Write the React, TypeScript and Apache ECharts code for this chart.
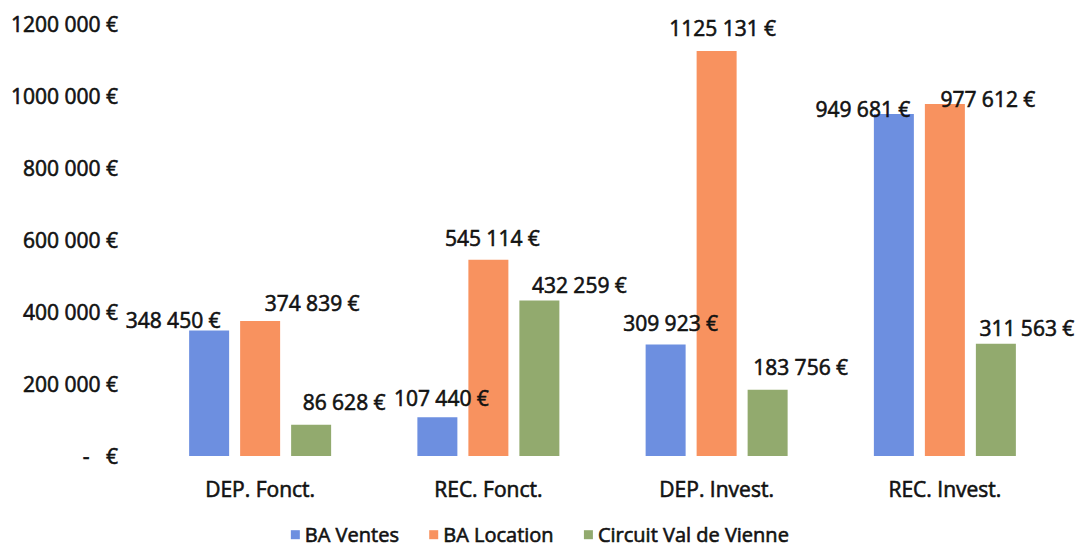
import React, { useEffect, useRef } from "react";
import * as echarts from "echarts";

const categories = ["DEP. Fonct.", "REC. Fonct.", "DEP. Invest.", "REC. Invest."];
const seriesNames = ["BA Ventes", "BA Location", "Circuit Val de Vienne"];
const baVentes = [348450, 107440, 309923, 949681];
const baLocation = [374839, 545114, 1125131, 977612];
const circuitValDeVienne = [86628, 432259, 183756, 311563];
const yTicks = [0, 200000, 400000, 600000, 800000, 1000000, 1200000];

// label layout tweaks (style only): [dx, dy] per series per category
const labelShift = [
  [[-36, 5], [4, -4], [5, -6], [-31, 10]],
  [[52, -3], [4, -6], [6, -7], [43, 10]],
  [[33, -7], [40, 0], [33, -7], [31, 0]],
];
const colors = ["#6D8FE0", "#F8925F", "#92AA6E"];
const FONT = "'Open Sans', sans-serif";
const TXT = "#121212";
const STROKE = { textBorderColor: TXT, textBorderWidth: 0.6 };

function fmt(v: number): string {
  if (v === 0) return "-   €";
  const th = Math.floor(v / 1000);
  const rest = String(Math.round(v % 1000)).padStart(3, "0");
  return th + " " + rest + " €";
}

export default function App() {
  const ref = useRef<HTMLDivElement>(null);
  useEffect(() => {
    if (!ref.current) return;
    const chart = echarts.init(ref.current, undefined, { renderer: "svg" });
    const allData = [baVentes, baLocation, circuitValDeVienne];
    chart.setOption({
      animation: false,
      textStyle: { fontFamily: FONT },
      grid: { left: 146, right: 21, top: 24, bottom: 92 },
      legend: {
        bottom: -2,
        left: "center",
        itemWidth: 9,
        itemHeight: 9,
        itemGap: 30,
        icon: "rect",
        textStyle: { fontFamily: FONT, fontSize: 20, color: TXT, ...STROKE },
        data: seriesNames,
      },
      xAxis: {
        type: "category",
        data: categories,
        axisLine: { show: false },
        axisTick: { show: false },
        axisLabel: { margin: 22, fontFamily: FONT, fontSize: 21, color: TXT, ...STROKE },
      },
      yAxis: {
        type: "value",
        min: yTicks[0],
        max: yTicks[yTicks.length - 1],
        interval: yTicks[1] - yTicks[0],
        splitLine: { show: false },
        axisLine: { show: false },
        axisTick: { show: false },
        axisLabel: {
          margin: 28,
          fontFamily: FONT,
          fontSize: 21,
          color: TXT,
          ...STROKE,
          formatter: (v: number) => fmt(v),
        },
      },
      series: allData.map((arr, si) => ({
        name: seriesNames[si],
        type: "bar",
        barWidth: 40,
        barGap: "27.5%",
        itemStyle: { color: colors[si] },
        data: arr.map((v, ci) => ({
          value: v,
          label: {
            show: true,
            position: "top",
            distance: 5,
            offset: labelShift[si][ci],
            formatter: (p: any) => fmt(p.value),
            fontFamily: FONT,
            fontSize: 21,
            color: TXT,
            ...STROKE,
          },
        })),
      })),
    });
    return () => chart.dispose();
  }, []);
  return (
    <div
      ref={ref}
      style={{ position: "fixed", left: 0, top: 0, width: 1080, height: 548, background: "#fff" }}
    />
  );
}
